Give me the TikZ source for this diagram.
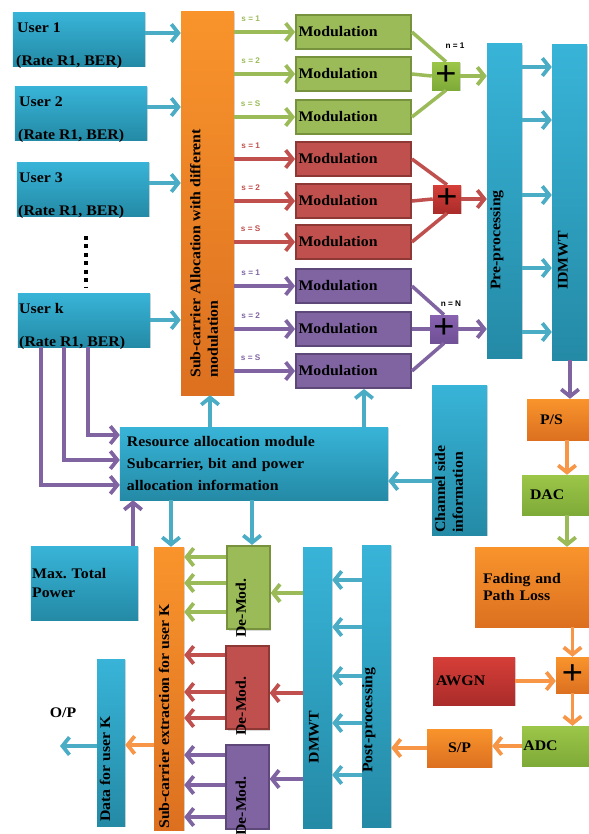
\documentclass[tikz,border=0pt]{standalone}
\usepackage{fontspec}
\setmainfont{Liberation Serif}[FakeStretch=1.08]
\newfontfamily\lblfont{Liberation Sans}
\usepackage{tikz}
\usetikzlibrary{arrows.meta,shadows}
\definecolor{CyTop}{RGB}{56,180,216}
\definecolor{CyBot}{RGB}{36,138,166}
\definecolor{OrTop}{RGB}{249,148,44}
\definecolor{OrBot}{RGB}{220,112,32}
\definecolor{GnTop}{RGB}{156,198,72}
\definecolor{GnBot}{RGB}{126,170,56}
\definecolor{RdTop}{RGB}{214,62,56}
\definecolor{RdBot}{RGB}{170,44,42}
\definecolor{PuTop}{RGB}{136,98,176}
\definecolor{PuBot}{RGB}{112,80,150}
\definecolor{ModGn}{RGB}{155,187,89}
\definecolor{ModRd}{RGB}{192,80,77}
\definecolor{ModPu}{RGB}{128,100,162}
\definecolor{LineGn}{RGB}{118,146,60}
\definecolor{LineRd}{RGB}{142,56,54}
\definecolor{LinePu}{RGB}{94,72,122}
\definecolor{ArrCy}{RGB}{75,172,198}
\definecolor{ArrOr}{RGB}{247,150,70}

\begin{document}
\frenchspacing
\begin{tikzpicture}[x=0.03cm,y=-0.03cm,
  base/.style={inner sep=1pt,font=\fontsize{12.5}{15}\selectfont\bfseries,
    drop shadow={opacity=0.3,shadow xshift=1.2pt,shadow yshift=-1.2pt}},
  cybox/.style={base,top color=CyTop,bottom color=CyBot},
  orbox/.style={base,top color=OrTop,bottom color=OrBot},
  gnbox/.style={base,top color=GnTop,bottom color=GnBot},
  rdbox/.style={base,top color=RdTop,bottom color=RdBot},
  pubox/.style={base,top color=PuTop,bottom color=PuBot},
  userbox/.style={cybox,minimum width=3.96cm,minimum height=1.62cm},
  utxt/.style={inner sep=0pt,anchor=base west,font=\fontsize{12.5}{15}\selectfont\bfseries},
  modbox/.style={base,line width=1.6pt,minimum width=3.45cm,minimum height=1.02cm,text width=3.3cm,align=left},
  demodbox/.style={base,line width=1.6pt,minimum width=1.27cm,minimum height=2.5cm},
  plusbox/.style={minimum width=0.84cm,minimum height=0.84cm,inner sep=0pt,font=\fontsize{30}{30}\selectfont\bfseries},
  rtxt/.style={rotate=90,inner sep=0pt,align=left,font=\fontsize{12.5}{15}\selectfont\bfseries},
  lbl/.style={inner sep=1pt,font=\lblfont\bfseries\fontsize{7}{8}\selectfont},
  arr/.style={line width=3.2pt,-{Straight Barb[length=6pt,width=15pt]}},
  acy/.style={arr,ArrCy},
  agn/.style={arr,ModGn},
  ard/.style={arr,ModRd},
  apu/.style={arr,ModPu},
  aor/.style={arr,ArrOr},
  sumline/.style={line width=3pt}
]
\useasboundingbox (0,0) rectangle (589,834);

% users
\node[userbox] (u1) at (79,39) {};
\node[userbox] (u2) at (81,113) {};
\node[userbox] (u3) at (83,189) {};
\node[userbox] (uk) at (84,320) {};
\node[utxt] (u1a) at (17,32) {User 1};
\node[utxt] (u1b) at (16,65) {(Rate R1, BER)};
\node[utxt] (u2a) at (19,106) {User 2};
\node[utxt] (u2b) at (18,139) {(Rate R1, BER)};
\node[utxt] (u3a) at (19,182) {User 3};
\node[utxt] (u3b) at (18,215) {(Rate R1, BER)};
\node[utxt] (uka) at (19,313) {User k};
\node[utxt] (ukb) at (19,346) {(Rate R1, BER)};
\draw[line width=3.4pt,dash pattern=on 3.4pt off 3.8pt] (86,236) -- (86,288);

% allocation and modulation
\node[orbox,minimum width=1.59cm,minimum height=11.49cm] (alloc) at (207.5,203.5) {};
\node[rtxt,anchor=west] (alloct) at (204,378) {Sub-carrier Allocation with different\\modulation};

\node[modbox,fill=ModGn,draw=LineGn] (g1) at (353.5,32) {Modulation};
\node[modbox,fill=ModGn,draw=LineGn] (g2) at (353.5,74) {Modulation};
\node[modbox,fill=ModGn,draw=LineGn] (g3) at (353.5,117) {Modulation};
\node[modbox,fill=ModRd,draw=LineRd] (r1) at (353.5,159) {Modulation};
\node[modbox,fill=ModRd,draw=LineRd] (r2) at (353.5,201) {Modulation};
\node[modbox,fill=ModRd,draw=LineRd] (r3) at (353.5,242) {Modulation};
\node[modbox,fill=ModPu,draw=LinePu] (p1) at (353.5,286) {Modulation};
\node[modbox,fill=ModPu,draw=LinePu] (p2) at (353.5,329) {Modulation};
\node[modbox,fill=ModPu,draw=LinePu] (p3) at (353.5,371) {Modulation};

\node[gnbox,plusbox] (sumg) at (446,76) {+};
\node[rdbox,plusbox] (sumr) at (447,199) {+};
\node[pubox,plusbox] (sump) at (444,329) {+};
\node[lbl] (n1) at (455,46) {n = 1};
\node[lbl] (nN) at (451,304) {n = N};

\node[cybox,minimum width=1.05cm,minimum height=9.42cm] (pre) at (504.5,201) {};
\node[rtxt,anchor=west] (pret) at (497,290) {Pre-processing};
\node[cybox,minimum width=1.05cm,minimum height=9.45cm] (idmwt) at (569.5,202.5) {};
\node[rtxt,anchor=west] (idmwtt) at (563,290) {IDMWT};

% transmitter chain
\node[orbox,minimum width=1.86cm,minimum height=1.23cm,text width=1.08cm,align=left] (ps) at (558,419.5) {P/S};
\node[gnbox,minimum width=2.01cm,minimum height=1.2cm,text width=1.53cm,align=left] (dac) at (555.5,495) {DAC};
\node[orbox,minimum width=3.42cm,minimum height=2.4cm,text width=2.94cm,align=left] (fad) at (532,587) {Fading and\\Path Loss};
\node[orbox,plusbox,minimum width=0.99cm,minimum height=1.08cm] (sumo) at (572.5,675) {+};
\node[rdbox,minimum width=2.46cm,minimum height=1.44cm,text width=2.28cm,align=left] (awgn) at (474,681) {AWGN};
\node[gnbox,minimum width=2.01cm,minimum height=1.2cm,text width=1.93cm,align=left] (adc) at (555.5,746) {ADC};
\node[orbox,minimum width=1.95cm,minimum height=1.14cm] (sp) at (459.5,748) {S/P};

% receiver
\node[cybox,minimum width=0.87cm,minimum height=8.46cm] (post) at (376.5,686) {};
\node[rtxt,anchor=west] (postt) at (369,773) {Post-processing};
\node[cybox,minimum width=0.87cm,minimum height=8.43cm] (dmwt) at (317.5,687.5) {};
\node[rtxt] (dmwtt) at (314,737) {DMWT};
\node[demodbox,fill=ModGn,draw=LineGn] (dg) at (248.5,587.5) {};
\node[demodbox,fill=ModRd,draw=LineRd] (dr) at (247.5,687.5) {};
\node[demodbox,fill=ModPu,draw=LinePu] (dp) at (247.5,787) {};
\node[rtxt] (dgt) at (241,608) {De-Mod.};
\node[rtxt] (drt) at (241,706) {De-Mod.};
\node[rtxt] (dpt) at (241,806) {De-Mod.};
\node[orbox,minimum width=0.9cm,minimum height=8.49cm] (ext) at (169,688.5) {};
\node[rtxt,anchor=west] (extt) at (164,829) {Sub-carrier extraction for user K};
\node[cybox,minimum width=0.84cm,minimum height=5.01cm] (data) at (111,742.5) {};
\node[rtxt,anchor=west] (datat) at (105,822) {Data for user K};
\node[inner sep=0pt,font=\fontsize{12.5}{15}\selectfont\bfseries] (optxt) at (63,713) {O/P};
\coordinate (op) at (60,746);

% resource allocation
\node[cybox,minimum width=8.04cm,minimum height=2.19cm,text width=7.62cm,align=left,font=\fontsize{12.5}{18.5}\selectfont\bfseries] (res) at (254,463.5) {Resource allocation module\\Subcarrier, bit and power\\allocation information};
\node[cybox,minimum width=3.21cm,minimum height=2.22cm,text width=3.14cm,align=left,font=\fontsize{12.5}{16}\selectfont\bfseries] (maxp) at (84.5,583) {Max. Total\\Power};
\node[cybox,minimum width=1.65cm,minimum height=4.5cm] (csi) at (459.5,460) {};
\node[rtxt,anchor=west] (csit) at (449,533) {Channel side\\information};

% connectors
\draw[acy] (u1.east |- 0,33) -- (alloc.west |- 0,33);
\draw[acy] (u2.east |- 0,107) -- (alloc.west |- 0,107);
\draw[acy] (u3.east |- 0,183) -- (alloc.west |- 0,183);
\draw[acy] (uk.east) -- (alloc.west |- uk.east);

\draw[agn] (alloc.east |- g1) -- (g1.west) node[lbl,pos=0.27,above=6pt] (sg1) {s = 1};
\draw[agn] (alloc.east |- g2) -- (g2.west) node[lbl,pos=0.27,above=6pt] (sg2) {s = 2};
\draw[agn] (alloc.east |- g3) -- (g3.west) node[lbl,pos=0.27,above=6pt] (sg3) {s = S};
\draw[ard] (alloc.east |- r1) -- (r1.west) node[lbl,pos=0.27,above=6pt] (sr1) {s = 1};
\draw[ard] (alloc.east |- r2) -- (r2.west) node[lbl,pos=0.27,above=6pt] (sr2) {s = 2};
\draw[ard] (alloc.east |- r3) -- (r3.west) node[lbl,pos=0.27,above=6pt] (sr3) {s = S};
\draw[apu] (alloc.east |- p1) -- (p1.west) node[lbl,pos=0.27,above=6pt] (sp1) {s = 1};
\draw[apu] (alloc.east |- p2) -- (p2.west) node[lbl,pos=0.27,above=6pt] (sp2) {s = 2};
\draw[apu] (alloc.east |- p3) -- (p3.west) node[lbl,pos=0.27,above=6pt] (sp3) {s = S};

\draw[sumline,ModGn] (g1.east) -- (sumg.north);
\draw[sumline,ModGn] (g2.east) -- (sumg.west);
\draw[sumline,ModGn] (g3.east) -- (sumg.south);
\draw[sumline,ModRd] (r1.east) -- (sumr.north);
\draw[sumline,ModRd] (r2.east) -- (sumr.west);
\draw[sumline,ModRd] (r3.east) -- (sumr.south);
\draw[sumline,ModPu] (p1.east) -- (sump.north);
\draw[sumline,ModPu] (p2.east) -- (sump.west);
\draw[sumline,ModPu] (p3.east) -- (sump.south);

\draw[agn] (sumg.east) -- (pre.west |- sumg.east);
\draw[ard] (sumr.east) -- (pre.west |- sumr.east);
\draw[apu] (sump.east) -- (pre.west |- sump.east);

\draw[acy] (pre.east |- 0,67) -- (idmwt.west |- 0,67);
\draw[acy] (pre.east |- 0,120) -- (idmwt.west |- 0,120);
\draw[acy] (pre.east |- 0,195) -- (idmwt.west |- 0,195);
\draw[acy] (pre.east |- 0,268) -- (idmwt.west |- 0,268);
\draw[acy] (pre.east |- 0,332) -- (idmwt.west |- 0,332);

\draw[apu] (idmwt.south -| 570,0) -- (ps.north -| 570,0);
\draw[aor] (ps.south -| 567,0) -- (dac.north -| 567,0);
\draw[agn] (dac.south -| 567,0) -- (fad.north -| 567,0);
\draw[aor] (fad.south -| sumo.north) -- (sumo.north);
\draw[aor] (awgn.east) -- (sumo.west |- awgn.east);
\draw[aor] (sumo.south) -- (adc.north -| sumo.south);
\draw[aor] (adc.west) -- (sp.east |- adc.west);
\draw[aor] (sp.west) -- (post.east |- sp.west);

\draw[acy] (post.west |- 0,580) -- (dmwt.east |- 0,580);
\draw[acy] (post.west |- 0,627) -- (dmwt.east |- 0,627);
\draw[acy] (post.west |- 0,676) -- (dmwt.east |- 0,676);
\draw[acy] (post.west |- 0,723) -- (dmwt.east |- 0,723);
\draw[acy] (post.west |- 0,775) -- (dmwt.east |- 0,775);

\draw[agn] (dmwt.west |- 0,593) -- (dg.east |- 0,593);
\draw[ard] (dmwt.west |- 0,693) -- (dr.east |- 0,693);
\draw[apu] (dmwt.west |- 0,779) -- (dp.east |- 0,779);

\draw[agn] (dg.west |- 0,557) -- (ext.east |- 0,557);
\draw[agn] (dg.west |- 0,583) -- (ext.east |- 0,583);
\draw[agn] (dg.west |- 0,612) -- (ext.east |- 0,612);
\draw[ard] (dr.west |- 0,655) -- (ext.east |- 0,655);
\draw[ard] (dr.west |- 0,692) -- (ext.east |- 0,692);
\draw[ard] (dr.west |- 0,718) -- (ext.east |- 0,718);
\draw[apu] (dp.west |- 0,755) -- (ext.east |- 0,755);
\draw[apu] (dp.west |- 0,785) -- (ext.east |- 0,785);
\draw[apu] (dp.west |- 0,817) -- (ext.east |- 0,817);

\draw[aor] (ext.west |- 0,745) -- (data.east |- 0,745);
\draw[acy] (data.west |- op) -- (op);

\draw[apu] (uk.south -| 88,0) |- (res.west |- 0,435);
\draw[apu] (uk.south -| 64,0) |- (res.west |- 0,460);
\draw[apu] (uk.south -| 41,0) |- (res.west |- 0,485);
\draw[apu] (maxp.north -| 133,0) -- (res.south -| 133,0);
\draw[acy] (res.north -| 210,0) -- (alloc.south -| 210,0);
\draw[acy] (res.north -| 364,0) -- (p3.south -| 364,0);
\draw[acy] (res.south -| 171,0) -- (ext.north -| 171,0);
\draw[acy] (res.south -| 252,0) -- (dg.north -| 252,0);
\draw[acy] (csi.west |- 0,481) -- (res.east |- 0,481);
\end{tikzpicture}
\end{document}
